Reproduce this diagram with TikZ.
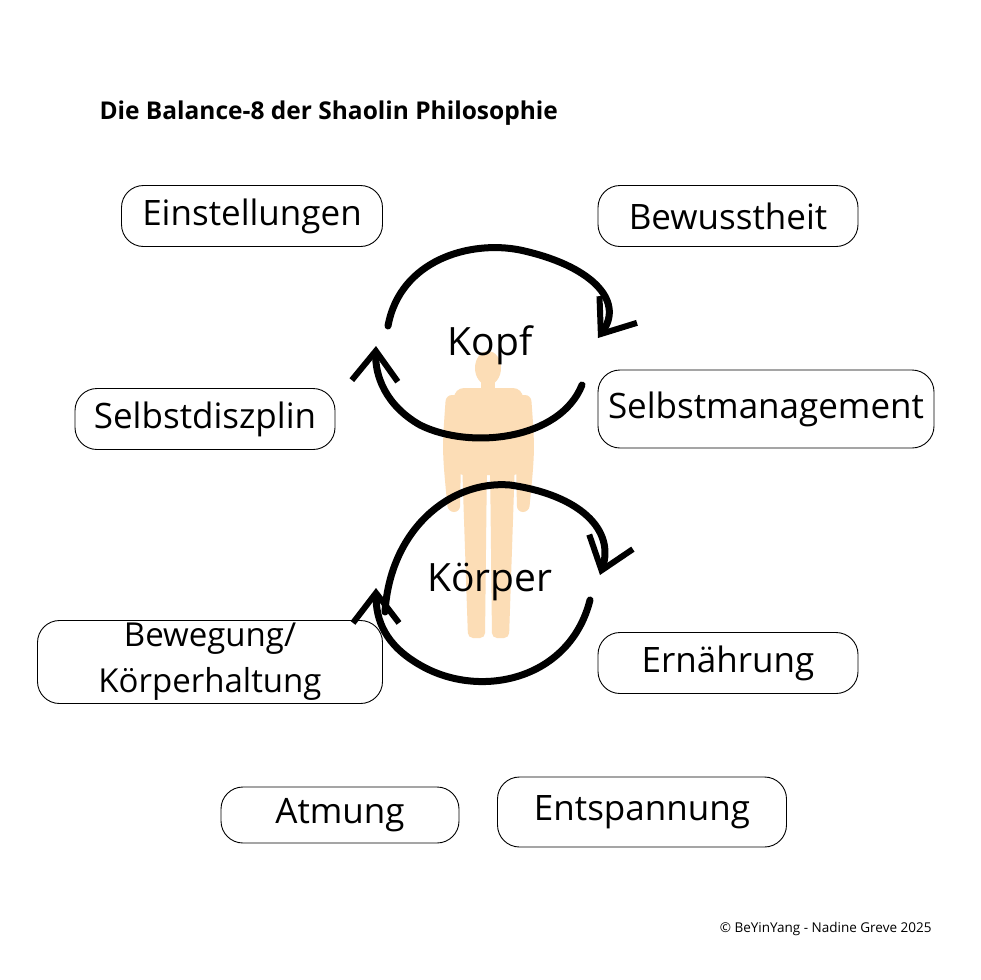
\documentclass[tikz,border=0pt]{standalone}
\usepackage{fontspec}
\setmainfont{Open Sans}
\usetikzlibrary{arrows.meta}
\definecolor{skin}{HTML}{FCDDB6}
\begin{document}
\begin{tikzpicture}[x=1pt,y=-1pt,
  box/.style={draw,line width=0.9pt,rounded corners=22pt,minimum height=61pt,font=\fontsize{35}{40}\selectfont,inner sep=0pt,align=center},
  brush/.style={line width=7pt,line cap=round,-{Straight Barb[length=30pt,width=46pt,line width=6pt]}},
  lbl/.style={font=\fontsize{39}{44}\selectfont}]
\useasboundingbox (0,0) rectangle (980,980);
\fill[white] (0,0) rectangle (980,980);
% figure
\begin{scope}[fill=skin]
\fill (488,368) ellipse (13 and 17);
\fill (481,380) rectangle (495,395);
\fill[rounded corners=10pt] (454,388) rectangle (523,475);
\fill[rounded corners=6pt] (446,395) .. controls (442,450) .. (448,512) -- (460,512) -- (462,395) -- cycle;
\fill[rounded corners=6pt] (531,395) .. controls (535,450) .. (529,512) -- (517,512) -- (515,395) -- cycle;
\fill[rounded corners=5pt] (462,460) -- (487,460) -- (485,638) -- (468,638) -- cycle;
\fill[rounded corners=5pt] (490,460) -- (515,460) -- (509,638) -- (492,638) -- cycle;
\end{scope}
% title
\node[anchor=west,font=\bfseries\fontsize{24.5}{28}\selectfont] (title) at (96,113) {Die Balance-8 der Shaolin Philosophie};
% boxes
\node[box,minimum width=261pt] (e) at (252,216) {Einstellungen};
\node[box,minimum width=260pt] (b) at (728,216) {Bewusstheit};
\node[box,minimum width=260pt] (sd) at (205,419) {Selbstdiszplin};
\node[box,minimum width=336pt,minimum height=78pt] (sm) at (766,409) {Selbstmanagement};
\node[box,minimum width=345pt,minimum height=83pt,font=\fontsize{33}{46}\selectfont] (bk) at (210,662) {Bewegung/\\Körperhaltung};
\node[box,minimum width=260pt] (er) at (728,663) {Ernährung};
\node[box,minimum width=238pt,minimum height=56pt] (a) at (340,815) {Atmung};
\node[box,minimum width=289pt,minimum height=70pt] (en) at (642,812) {Entspannung};
% labels
\node[lbl] (kopf) at (490,345) {Kopf};
\node[lbl] (koerper) at (490,582) {Körper};
% arrows top
\coordinate (t1) at (388,326);
\coordinate (t2) at (598,338);
\coordinate (t4) at (376,346);
\draw[brush] (t1) .. controls (400,260) and (470,240) .. (520,250) .. controls (590,265) and (625,300) .. (t2);
\draw[brush] (582,385) .. controls (560,440) and (470,450) .. (420,425) .. controls (385,405) and (375,375) .. (t4);
% arrows bottom
\coordinate (b1) at (385,612);
\coordinate (b2) at (600,575);
\coordinate (b4) at (376,588);
\draw[brush] (b1) .. controls (390,530) and (450,480) .. (510,485) .. controls (580,495) and (615,530) .. (b2);
\draw[brush] (590,600) .. controls (570,680) and (480,700) .. (420,665) .. controls (385,645) and (376,620) .. (b4);
% copyright
\node[anchor=east,font=\fontsize{13.5}{16}\selectfont] (copy) at (935,929) {© BeYinYang - Nadine Greve 2025};
\end{tikzpicture}
\end{document}
